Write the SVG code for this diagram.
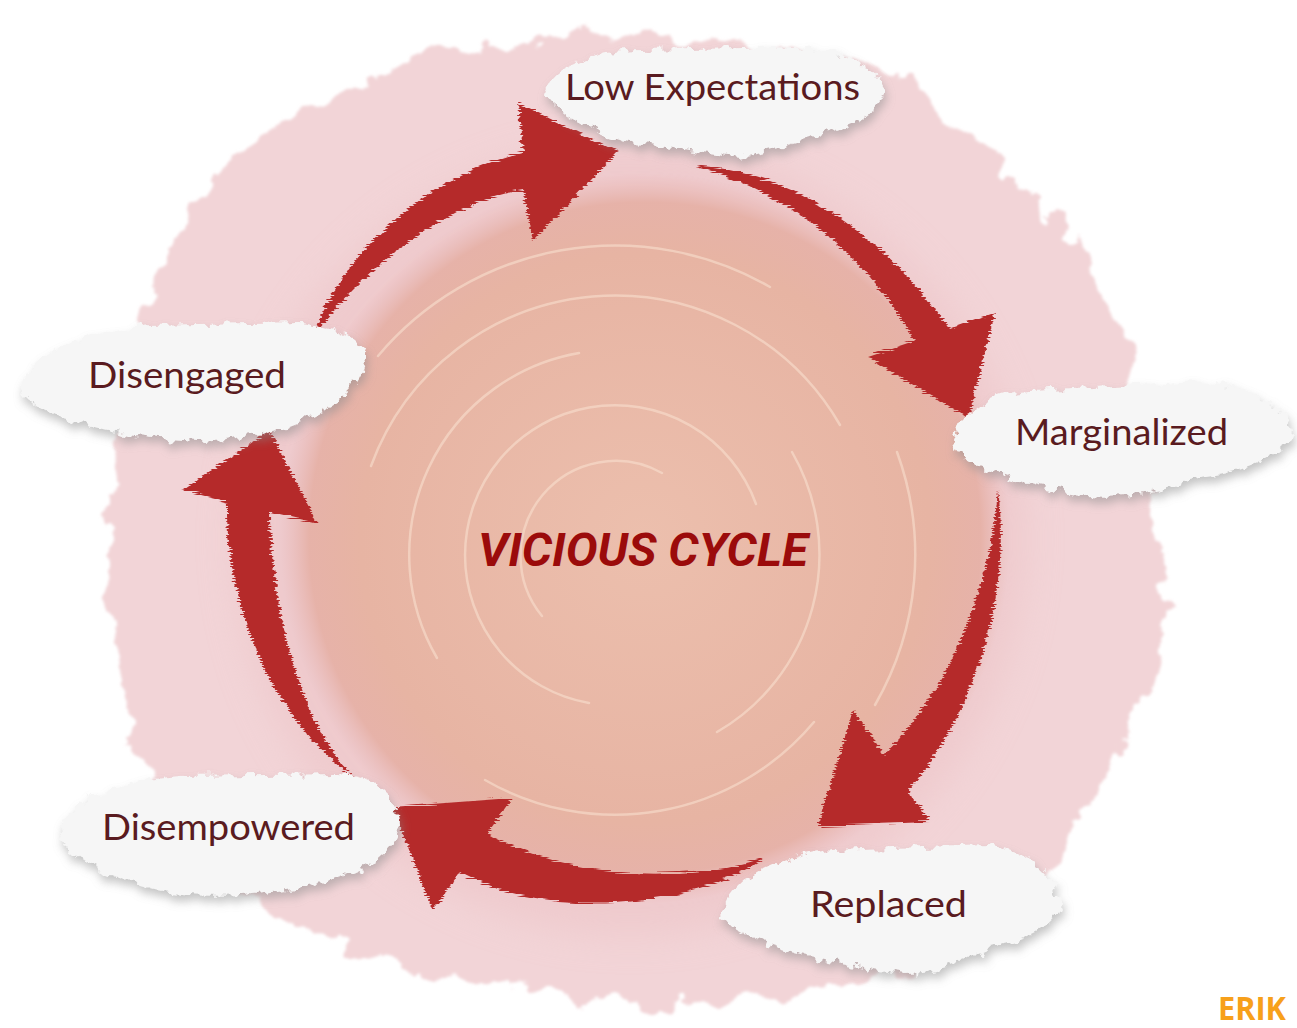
<svg xmlns="http://www.w3.org/2000/svg" width="1297" height="1028" viewBox="0 0 1297 1028">
<defs>
<style>
.lbl{font-family:"Lato","Open Sans","DejaVu Sans",sans-serif;font-size:36px;fill:#5a1b20;}
.arrow{fill:#b5292a;filter:url(#streak);}
.cloud{fill:#f6f6f6;filter:url(#torn);}
.ring{fill:none;stroke:#f8dfcf;stroke-width:2.5;stroke-linecap:round;opacity:0.6;}
.title{font-family:"Roboto","Open Sans","Liberation Sans",sans-serif;font-weight:700;font-style:italic;font-size:46px;fill:#9b0b0b;}
</style>
<filter id="wash" x="-10%" y="-10%" width="120%" height="120%">
<feTurbulence type="fractalNoise" baseFrequency="0.03" numOctaves="4" seed="3" result="n"/>
<feDisplacementMap in="SourceGraphic" in2="n" scale="38" xChannelSelector="R" yChannelSelector="G" result="d"/>
<feGaussianBlur in="d" stdDeviation="1.5"/>
</filter>
<filter id="soft" x="-20%" y="-20%" width="140%" height="140%">
<feGaussianBlur stdDeviation="18"/>
</filter>
<filter id="torn" x="-15%" y="-30%" width="130%" height="170%">
<feTurbulence type="fractalNoise" baseFrequency="0.09" numOctaves="3" seed="7" result="n"/>
<feDisplacementMap in="SourceGraphic" in2="n" scale="14" xChannelSelector="R" yChannelSelector="G" result="d"/>
<feGaussianBlur in="d" stdDeviation="5" result="b"/>
<feOffset in="b" dx="2" dy="6" result="o"/>
<feFlood flood-color="#8a8a8a" flood-opacity="0.5"/>
<feComposite in2="o" operator="in" result="sh"/>
<feMerge><feMergeNode in="sh"/><feMergeNode in="d"/></feMerge>
</filter>
<filter id="streak" x="-10%" y="-10%" width="120%" height="120%">
<feTurbulence type="fractalNoise" baseFrequency="0.02 0.7" numOctaves="2" seed="5" result="n"/>
<feDisplacementMap in="SourceGraphic" in2="n" scale="9" xChannelSelector="R" yChannelSelector="G"/>
</filter>
<radialGradient id="disc" cx="0.5" cy="0.5" r="0.5">
<stop offset="0" stop-color="#ecbfad"/>
<stop offset="0.78" stop-color="#e7b4a3"/>
<stop offset="0.92" stop-color="#e5aea2" stop-opacity="0.85"/>
<stop offset="1" stop-color="#e8b6b3" stop-opacity="0"/>
</radialGradient>
</defs>

<rect width="1297" height="1028" fill="#ffffff"/>

<g id="background">
<path filter="url(#wash)" fill="#f2d4d7" d="M175,235 C210,170 270,120 340,95 C400,60 460,40 540,38 C640,30 780,40 880,65 C960,120 1040,190 1100,280 C1140,360 1150,450 1165,560 C1170,650 1140,720 1100,780 C1070,850 1030,900 960,945 C880,985 780,1000 680,1005 C580,1000 470,985 370,955 C290,925 210,880 160,800 C115,720 100,620 110,520 C118,430 140,320 175,235 Z"/>
<circle cx="630" cy="540" r="395" fill="#ecc2c5" opacity="0.55" filter="url(#soft)"/>
<circle cx="645" cy="538" r="365" fill="url(#disc)"/>
<path class="ring" d="M542,616 A95,95 0 0 1 662,473"/>
<path class="ring" d="M589,703 A150,150 0 1 1 756,504"/>
<path class="ring" d="M437,658 A205,205 0 0 1 579,353"/>
<path class="ring" d="M792,452 A205,205 0 0 1 717,732"/>
<path class="ring" d="M371,466 A260,260 0 0 1 840,425"/>
<path class="ring" d="M814,722 A260,260 0 0 1 485,780"/>
<path class="ring" d="M378,356 A310,310 0 0 1 770,287"/>
<path class="ring" d="M897,452 A300,300 0 0 1 875,705"/>
</g>

<g id="connectors">
<path id="arrow-disengaged-lowexp" class="arrow" d="M313,338 C335,265 415,180 523,152 L518,103 L618,152 L533,240 L523,190 C450,200 360,270 313,338 Z"/>
<path id="arrow-lowexp-marginalized" class="arrow" d="M690,165 C790,170 880,230 950,329 L995,313 L968,418 L867,357 L915,341 C870,260 790,190 690,165 Z"/>
<path id="arrow-marginalized-replaced" class="arrow" d="M998,490 C1010,580 985,700 908,791 L930,822 L818,826 L853,710 L884,755 C950,690 990,590 998,490 Z"/>
<path id="arrow-replaced-disempowered" class="arrow" d="M767,857 C700,880 580,885 487,834 L512,798 L392,807 L433,910 L460,872 C530,915 680,915 767,857 Z"/>
<path id="arrow-disempowered-disengaged" class="arrow" d="M357,780 C310,740 270,620 270,512 L317,523 L270,430 L183,490 L227,501 C225,600 270,720 357,780 Z"/>
</g>

<g id="node-low-expectations">
<path class="cloud" d="M545,95 C552,68 585,52 640,50 L800,47 C850,50 878,70 885,90 C880,110 858,122 835,130 C800,142 770,150 740,158 C700,150 660,148 620,140 C588,130 560,115 545,95 Z"/>
<text class="lbl" x="565" y="100" textLength="295" lengthAdjust="spacingAndGlyphs">Low Expectations</text>
</g>

<g id="node-marginalized">
<path class="cloud" d="M952,440 C960,415 985,395 1030,390 L1200,382 C1250,385 1285,405 1292,430 C1285,455 1250,470 1200,478 C1160,490 1130,498 1090,495 C1040,490 995,475 970,462 C958,455 952,448 952,440 Z"/>
<text class="lbl" x="1015" y="445" textLength="213" lengthAdjust="spacingAndGlyphs">Marginalized</text>
</g>

<g id="node-disengaged">
<path class="cloud" d="M20,388 C30,355 70,335 150,325 L300,322 C340,325 362,340 366,360 C360,385 340,400 320,412 C290,428 250,440 200,442 C140,440 90,428 55,415 C35,405 22,396 20,388 Z"/>
<text class="lbl" x="88" y="388" textLength="198" lengthAdjust="spacingAndGlyphs">Disengaged</text>
</g>

<g id="node-disempowered">
<path class="cloud" d="M60,830 C70,800 110,782 180,776 L340,774 C380,778 400,800 400,825 C395,850 370,868 330,880 C290,892 240,898 190,895 C140,890 95,870 75,855 C65,846 60,838 60,830 Z"/>
<text class="lbl" x="102" y="840" textLength="253" lengthAdjust="spacingAndGlyphs">Disempowered</text>
</g>

<g id="node-replaced">
<path class="cloud" d="M722,915 C730,885 760,860 830,850 L990,845 C1030,850 1058,880 1060,908 C1050,930 1020,940 990,948 C960,962 935,975 905,975 C860,968 810,958 770,945 C745,935 725,925 722,915 Z"/>
<text class="lbl" x="810" y="917" textLength="157" lengthAdjust="spacingAndGlyphs">Replaced</text>
</g>

<g id="center-label">
<text class="title" x="478" y="566" textLength="330" lengthAdjust="spacingAndGlyphs">VICIOUS CYCLE</text>
</g>

<text x="1218" y="1020" font-family="Open Sans, Liberation Sans, sans-serif" font-weight="700" font-size="32" fill="#f7a01b" textLength="68" lengthAdjust="spacingAndGlyphs">ERIK</text>
</svg>
